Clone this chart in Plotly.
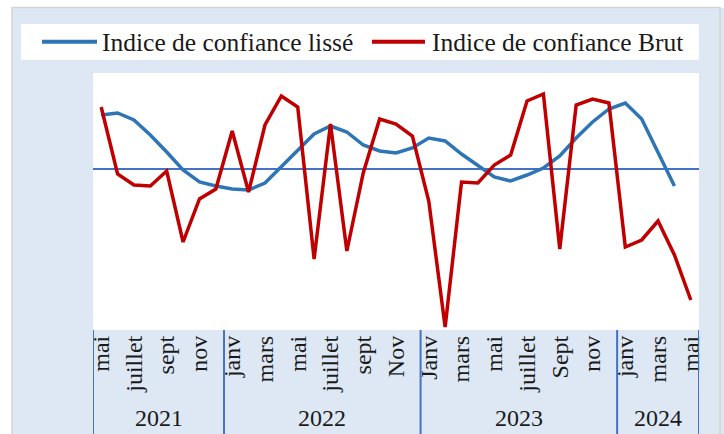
import pandas as pd
import plotly.graph_objects as go

# ---------------- data ----------------
periods = [str(p) for p in pd.period_range("2021-05", "2024-05", freq="M")]  # 37 months
year_labels = ["2021", "2022", "2023", "2024"]
year_counts = [8, 12, 12, 5]
tick_labels = ["mai", "juillet", "sept", "nov",
               "janv", "mars", "mai", "juillet", "sept", "Nov",
               "Janv", "mars", "mai", "juillet", "Sept", "nov",
               "janv", "mars", "mai"]
series_names = ["Indice de confiance lissé", "Indice de confiance Brut"]
indice_lisse = [5.4, 5.6, 4.9, 3.4, 1.7, -0.1, -1.3, -1.7,
                -2.0, -2.1, -1.4, 0.2, 1.9, 3.5, 4.3, 3.7, 2.4, 1.8, 1.6, 2.1,
                3.1, 2.8, 1.5, 0.3, -0.8, -1.2, -0.6, 0.1, 1.3, 3.1, 4.7, 6.0,
                6.6, 5.0, 1.7, -1.7, None]
indice_brut = [6.2, -0.5, -1.6, -1.7, -0.2, -7.3, -3.0, -2.0,
               3.8, -2.3, 4.4, 7.3, 6.2, -9.0, 4.5, -8.2, -0.4, 5.0, 4.5, 3.3,
               -3.2, -15.8, -1.3, -1.4, 0.4, 1.4, 6.8, 7.5, -8.0, 6.4, 7.0, 6.6,
               -7.8, -7.1, -5.2, -8.6, -13.1]

# ---------------- layout geometry ----------------
W, H = 724, 434
ML, MR, MT, MB = 93, 25, 73, 104
PW, PH = W - ML - MR, H - MT - MB


def px_x(px):
    return (px - ML) / PW


def px_y(py):
    return (H - MB - py) / PH


BG = "#dde8f4"
FONT = "Liberation Serif"
TXT = "#1a1a1a"
COLORS = ["#2e75b6", "#c00000"]

fig = go.Figure()
fig.add_trace(go.Scatter(x=periods, y=indice_lisse, mode="lines",
                         name=series_names[0], showlegend=False,
                         line=dict(color=COLORS[0], width=3.5)))
fig.add_trace(go.Scatter(x=periods, y=indice_brut, mode="lines",
                         name=series_names[1], showlegend=False,
                         line=dict(color=COLORS[1], width=3.5)))

shapes = []
# outer white strips + grey frame
shapes.append(dict(type="rect", xref="paper", yref="paper", layer="below",
                   x0=px_x(-5), x1=px_x(12), y0=px_y(H + 5), y1=px_y(-5),
                   fillcolor="white", line=dict(width=0)))
shapes.append(dict(type="rect", xref="paper", yref="paper", layer="below",
                   x0=px_x(-5), x1=px_x(W + 5), y0=px_y(8), y1=px_y(-5),
                   fillcolor="white", line=dict(width=0)))
shapes.append(dict(type="rect", xref="paper", yref="paper", layer="below",
                   x0=px_x(12), x1=px_x(720), y0=px_y(H + 5), y1=px_y(7.5),
                   fillcolor="rgba(0,0,0,0)", line=dict(color="#d4d4d4", width=1.5)))
# legend box
shapes.append(dict(type="rect", xref="paper", yref="paper", layer="below",
                   x0=px_x(21), x1=px_x(699), y0=px_y(60), y1=px_y(24),
                   fillcolor="white", line=dict(width=0)))
# legend samples
legend_items = [(42, 97, 100), (372, 425, 430)]
annotations = []
for (lx0, lx1, tx), name, col in zip(legend_items, series_names, COLORS):
    shapes.append(dict(type="line", xref="paper", yref="paper",
                       x0=px_x(lx0), x1=px_x(lx1), y0=px_y(41.7), y1=px_y(41.7),
                       line=dict(color=col, width=4)))
    annotations.append(dict(x=px_x(tx), xref="paper", y=px_y(42), yref="paper",
                            text=name, showarrow=False,
                            font=dict(family=FONT, size=25.5, color=TXT),
                            xanchor="left", yanchor="middle"))
# year dividers
bounds = [-0.5]
for c in year_counts:
    bounds.append(bounds[-1] + c)
for b in bounds:
    shapes.append(dict(type="line", xref="x", yref="paper",
                       x0=b, x1=b, y0=0, y1=px_y(H + 2),
                       line=dict(color="#4472c4", width=2)))

for i, lab in enumerate(year_labels):
    center = (bounds[i] + bounds[i + 1]) / 2
    annotations.append(dict(x=center, xref="x", y=px_y(418), yref="paper",
                            text=lab, showarrow=False,
                            font=dict(family=FONT, size=24, color=TXT),
                            xanchor="center", yanchor="middle"))

fig.update_layout(
    width=W, height=H,
    margin=dict(l=ML, r=MR, t=MT, b=MB, autoexpand=False),
    paper_bgcolor=BG, plot_bgcolor="white",
    shapes=shapes, annotations=annotations,
    showlegend=False,
    xaxis=dict(type="category", categoryorder="array", categoryarray=periods,
               range=[-0.5, len(periods) - 0.5], automargin=False,
               tickmode="array", tickvals=periods[::2], ticktext=tick_labels,
               tickangle=-90, ticks="", showgrid=False, showline=False,
               zeroline=False,
               tickfont=dict(family=FONT, size=24, color=TXT)),
    yaxis=dict(range=[-16.1, 9.6], showticklabels=False, ticks="",
               showgrid=False, showline=False, automargin=False,
               zeroline=True, zerolinecolor="#4472c4", zerolinewidth=1.5),
)

fig.write_html("out.html",
               config={"displayModeBar": False},
               post_script="document.body.style.margin='0';"
                           "document.body.style.overflow='hidden';")
